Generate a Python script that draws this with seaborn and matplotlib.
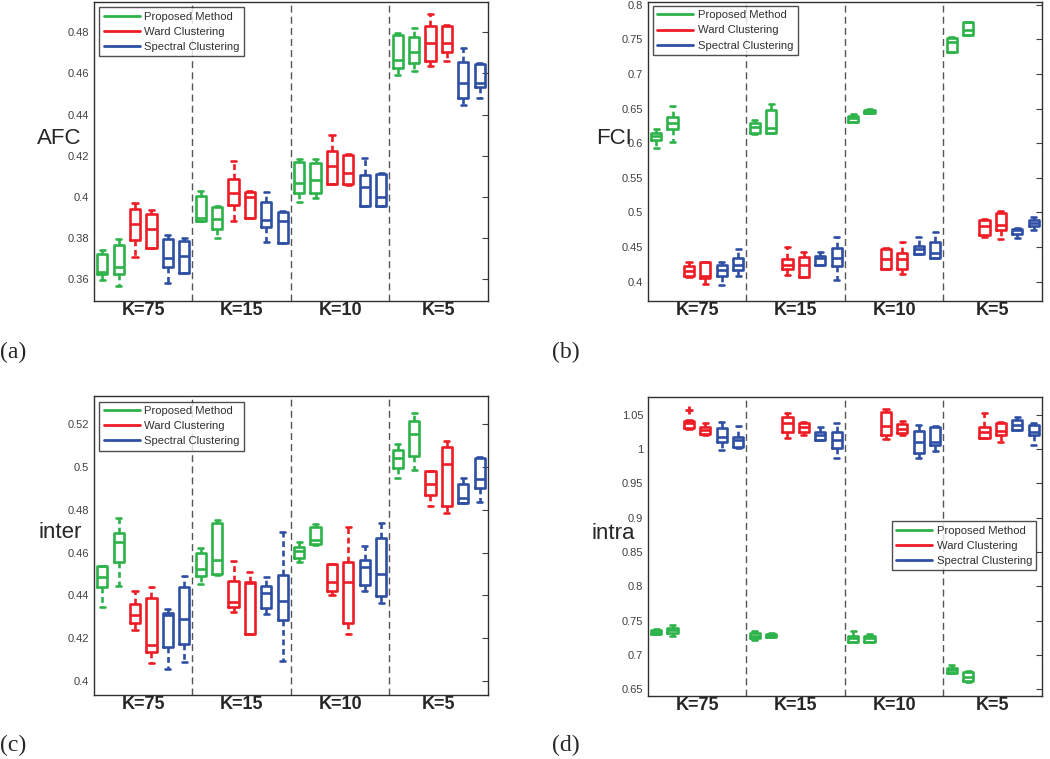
import numpy as np
import pandas as pd
import matplotlib
matplotlib.use("Agg")
import matplotlib.pyplot as plt
from matplotlib.lines import Line2D
import seaborn as sns

# groups and methods (2 runs per method in each group)
groups = ["K=75", "K=15", "K=10", "K=5"]
methods = ["Proposed Method", "Ward Clustering", "Spectral Clustering"]
colors = ["#2db34a", "#ee1c25", "#2e4fa3"]

# each box: lower whisker, q1, median, q3, upper whisker  (G1 G2 R1 R2 B1 B2 per group)
afc_stats = [
    [0.3595, 0.3625, 0.3635, 0.3720, 0.3742], [0.3567, 0.3624, 0.3660, 0.3764, 0.3794],
    [0.3707, 0.3790, 0.3867, 0.3940, 0.3971], [0.3749, 0.3752, 0.3841, 0.3918, 0.3934],
    [0.3583, 0.3660, 0.3700, 0.3794, 0.3812], [0.3627, 0.3627, 0.3712, 0.3783, 0.3798],
    [0.3880, 0.3880, 0.3895, 0.4004, 0.4026], [0.3800, 0.3845, 0.3890, 0.3948, 0.3955],
    [0.3882, 0.3960, 0.4017, 0.4085, 0.4176], [0.3895, 0.3895, 0.4000, 0.4021, 0.4028],
    [0.3778, 0.3854, 0.3887, 0.3973, 0.4021], [0.3773, 0.3773, 0.3884, 0.3924, 0.3931],
    [0.3973, 0.4020, 0.4065, 0.4167, 0.4182], [0.3992, 0.4017, 0.4081, 0.4163, 0.4185],
    [0.4060, 0.4060, 0.4151, 0.4224, 0.4302], [0.4058, 0.4062, 0.4114, 0.4205, 0.4208],
    [0.3955, 0.3955, 0.4049, 0.4106, 0.4190], [0.3955, 0.3955, 0.4000, 0.4109, 0.4114],
    [0.4591, 0.4625, 0.4665, 0.4789, 0.4795], [0.4610, 0.4652, 0.4706, 0.4779, 0.4820],
    [0.4636, 0.4660, 0.4746, 0.4832, 0.4889], [0.4662, 0.4704, 0.4750, 0.4832, 0.4836],
    [0.4446, 0.4482, 0.4552, 0.4657, 0.4722], [0.4479, 0.4532, 0.4552, 0.4646, 0.4649],
]
fci_stats = [
    [0.5927, 0.6047, 0.6105, 0.6143, 0.6200], [0.6023, 0.6200, 0.6288, 0.6384, 0.6538],
    [0.4070, 0.4075, 0.4147, 0.4219, 0.4277], [0.3970, 0.4051, 0.4085, 0.4277, 0.4282],
    [0.3945, 0.4085, 0.4171, 0.4243, 0.4277], [0.4075, 0.4171, 0.4243, 0.4340, 0.4469],
    [0.6140, 0.6143, 0.6240, 0.6297, 0.6336], [0.6153, 0.6153, 0.6225, 0.6480, 0.6562],
    [0.4099, 0.4180, 0.4243, 0.4325, 0.4498], [0.4060, 0.4060, 0.4243, 0.4349, 0.4426],
    [0.4240, 0.4243, 0.4340, 0.4373, 0.4426], [0.4017, 0.4219, 0.4340, 0.4484, 0.4652],
    [0.6300, 0.6302, 0.6360, 0.6398, 0.6417], [0.6442, 0.6442, 0.6466, 0.6480, 0.6494],
    [0.4184, 0.4186, 0.4325, 0.4474, 0.4484], [0.4109, 0.4186, 0.4325, 0.4421, 0.4580],
    [0.4397, 0.4397, 0.4474, 0.4518, 0.4643], [0.4338, 0.4340, 0.4412, 0.4566, 0.4715],
    [0.7320, 0.7322, 0.7466, 0.7514, 0.7529], [0.7562, 0.7562, 0.7634, 0.7745, 0.7755],
    [0.4652, 0.4676, 0.4806, 0.4893, 0.4907], [0.4614, 0.4748, 0.4820, 0.4989, 0.5023],
    [0.4628, 0.4691, 0.4739, 0.4758, 0.4772], [0.4739, 0.4797, 0.4854, 0.4893, 0.4941],
]
inter_stats = [
    [0.4347, 0.4441, 0.4484, 0.4537, 0.4537], [0.4444, 0.4557, 0.4651, 0.4690, 0.4763],
    [0.4238, 0.4270, 0.4308, 0.4360, 0.4420], [0.4086, 0.4137, 0.4168, 0.4389, 0.4439],
    [0.4055, 0.4161, 0.4308, 0.4316, 0.4335], [0.4091, 0.4171, 0.4288, 0.4441, 0.4491],
    [0.4453, 0.4491, 0.4523, 0.4599, 0.4623], [0.4495, 0.4500, 0.4565, 0.4739, 0.4752],
    [0.4324, 0.4347, 0.4368, 0.4467, 0.4560], [0.4218, 0.4218, 0.4459, 0.4464, 0.4511],
    [0.4312, 0.4340, 0.4410, 0.4444, 0.4484], [0.4095, 0.4285, 0.4375, 0.4495, 0.4697],
    [0.4557, 0.4573, 0.4609, 0.4624, 0.4648], [0.4636, 0.4638, 0.4659, 0.4718, 0.4733],
    [0.4402, 0.4420, 0.4464, 0.4545, 0.4545], [0.4218, 0.4270, 0.4464, 0.4557, 0.4721],
    [0.4422, 0.4448, 0.4534, 0.4565, 0.4632], [0.4366, 0.4397, 0.4500, 0.4666, 0.4739],
    [0.4946, 0.4996, 0.5043, 0.5079, 0.5105], [0.4988, 0.5051, 0.5152, 0.5216, 0.5253],
    [0.4817, 0.4869, 0.4920, 0.4981, 0.4981], [0.4783, 0.4817, 0.5012, 0.5094, 0.5121],
    [0.4833, 0.4833, 0.4853, 0.4918, 0.4949], [0.4837, 0.4900, 0.4942, 0.5040, 0.5048],
]
intra_stats = [
    [0.7304, 0.7309, 0.7333, 0.7367, 0.7377], [0.7270, 0.7318, 0.7357, 0.7391, 0.7440],
    [1.0291, 1.0301, 1.0384, 1.0413, 1.0422], [1.0204, 1.0214, 1.0277, 1.0325, 1.0374],
    [0.9986, 1.0107, 1.0170, 1.0311, 1.0388], [1.0010, 1.0034, 1.0131, 1.0170, 1.0335],
    [0.7221, 0.7246, 0.7280, 0.7318, 0.7343], [0.7258, 0.7260, 0.7289, 0.7309, 0.7318],
    [1.0156, 1.0253, 1.0384, 1.0471, 1.0519], [1.0204, 1.0253, 1.0325, 1.0374, 1.0398],
    [1.0131, 1.0131, 1.0204, 1.0253, 1.0325], [0.9865, 1.0020, 1.0131, 1.0253, 1.0374],
    [0.7187, 0.7187, 0.7241, 0.7280, 0.7343], [0.7187, 0.7187, 0.7246, 0.7280, 0.7309],
    [1.0141, 1.0204, 1.0340, 1.0544, 1.0578], [1.0204, 1.0228, 1.0291, 1.0359, 1.0408],
    [0.9865, 0.9947, 1.0107, 1.0267, 1.0350], [0.9976, 1.0059, 1.0107, 1.0316, 1.0340],
    [0.6736, 0.6736, 0.6775, 0.6809, 0.6848], [0.6610, 0.6615, 0.6673, 0.6746, 0.6770],
    [1.0165, 1.0165, 1.0253, 1.0325, 1.0519], [1.0097, 1.0204, 1.0267, 1.0374, 1.0398],
    [1.0277, 1.0277, 1.0350, 1.0422, 1.0461], [1.0059, 1.0204, 1.0253, 1.0350, 1.0374],
]
intra_outliers = [(2, 1.057)]


def to_frame(stats):
    rows = []
    for i, box in enumerate(stats):
        for v in box:
            rows.append({"pos": i, "method": methods[(i % 6) // 2], "value": v})
    return pd.DataFrame(rows)


def panel(fig, rect, stats, ylim, yticks, ylabel, legend_anchor, outliers=()):
    ax = fig.add_axes(rect)
    df = to_frame(stats)
    sns.boxplot(data=df, x="pos", y="value", hue="method", hue_order=methods,
                palette=colors, dodge=False, fill=False, whis=(0, 100),
                width=0.62, linewidth=1.9, legend=False, ax=ax,
                whiskerprops={"linestyle": (0, (2.2, 1.4))})
    for x, y in outliers:
        ax.plot(x, y, marker="+", color=colors[1], markersize=6, mew=2)
    for s in [5.5, 11.5, 17.5]:
        ax.axvline(s, color="#555555", lw=1, ls=(0, (5, 3)))
    ax.set_xlim(-0.5, 23.5)
    ax.set_ylim(*ylim)
    ax.set_yticks(yticks)
    ax.set_yticklabels([("%g" % t) for t in yticks])
    ax.set_xticks([2.5, 8.5, 14.5, 20.5])
    ax.set_xticklabels(groups, fontsize=13, fontweight="bold")
    ax.tick_params(axis="x", length=0, pad=0.5)
    ax.tick_params(axis="y", direction="in", right=True, length=4, width=0.8,
                   labelsize=8, labelcolor="#404040", color="#404040", pad=3.5)
    ax.set_xlabel("")
    ax.set_ylabel("")
    for sp in ax.spines.values():
        sp.set_visible(True)
        sp.set_color("#303030")
        sp.set_linewidth(1)
    ax.text(-0.087, 0.545, ylabel, transform=ax.transAxes, fontsize=16,
            ha="center", va="center")
    handles = [Line2D([0], [0], color=c, lw=2) for c in colors]
    leg = ax.legend(handles, methods, loc="upper left", bbox_to_anchor=legend_anchor,
                    borderaxespad=0, fontsize=8.1, handlelength=3.2,
                    handletextpad=0.4, labelspacing=0.45, frameon=True,
                    fancybox=False, borderpad=0.4)
    leg.get_frame().set_edgecolor("#222222")
    leg.get_frame().set_linewidth(1)
    for t in leg.get_texts():
        t.set_color("#303030")
    return ax


sns.set_theme(style="white")
plt.rcParams["font.family"] = ["Liberation Sans", "DejaVu Sans"]

fig = plt.figure(figsize=(10.5, 7.59), dpi=100)

panel(fig, [0.0895, 0.6034, 0.3752, 0.3939], afc_stats, (0.3493, 0.4947),
      [0.36, 0.38, 0.4, 0.42, 0.44, 0.46, 0.48], "AFC", (0.013, 0.983))
panel(fig, [0.6171, 0.6034, 0.3752, 0.3939], fci_stats, (0.372, 0.804),
      [0.4, 0.45, 0.5, 0.55, 0.6, 0.65, 0.7, 0.75, 0.8], "FCI", (0.012, 0.987))
panel(fig, [0.0895, 0.0843, 0.3752, 0.3939], inter_stats, (0.3935, 0.5331),
      [0.4, 0.42, 0.44, 0.46, 0.48, 0.5, 0.52], "inter", (0.013, 0.981))
panel(fig, [0.6171, 0.0830, 0.3752, 0.3939], intra_stats, (0.640, 1.0758),
      [0.65, 0.7, 0.75, 0.8, 0.85, 0.9, 0.95, 1, 1.05], "intra", (0.6185, 0.585),
      outliers=intra_outliers)

for label, x, y in [("(a)", 0.0, 0.536), ("(b)", 0.526, 0.536),
                    ("(c)", 0.0, 0.0184), ("(d)", 0.526, 0.0184)]:
    fig.text(x, y, label, fontsize=17, family="Liberation Serif",
             ha="left", va="center")

fig.savefig("out.png", dpi=100)
